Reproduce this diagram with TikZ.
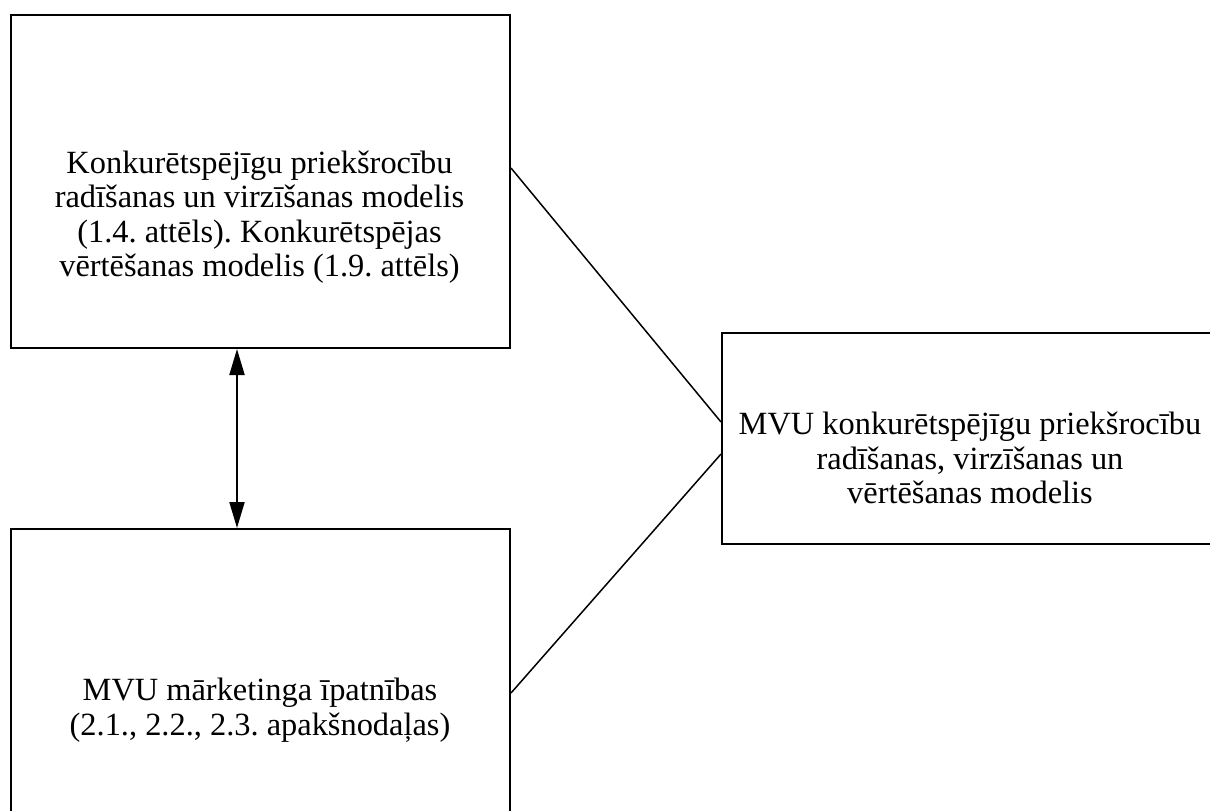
\documentclass[tikz,border=0pt]{standalone}
\usepackage{fontspec}
\setmainfont{Liberation Serif}
\usetikzlibrary{arrows.meta,calc}
\frenchspacing
\begin{document}
\begin{tikzpicture}[x=0.5pt,y=-0.5pt,
  box/.style={draw,line width=1pt,inner sep=0pt,anchor=north west},
  lbl/.style={align=center,inner sep=0pt,font=\fontsize{16.2pt}{17.2pt}\selectfont},
  link/.style={line width=0.75pt},
  dbl/.style={line width=1pt,{Triangle[length=13pt,width=7.5pt]}-{Triangle[length=13pt,width=7.5pt]}}]
\useasboundingbox (0,0) rectangle (1210,810);
\clip (0,0) rectangle (1210,810);
% the three boxes
\node[box,minimum width=499pt*0.5,minimum height=333pt*0.5] (tl) at (10,14) {};
\node[box,minimum width=499pt*0.5,minimum height=330pt*0.5] (bl) at (10,528) {};
\node[box,minimum width=500pt*0.5,minimum height=211pt*0.5] (rt) at (721,332) {};
% box texts
\node[lbl] (tltext) at (259.5,217) {Konkurētspējīgu priekšrocību\\radīšanas un virzīšanas modelis\\(1.4. attēls). Konkurētspējas\\vērtēšanas modelis (1.9. attēls)};
\node[lbl] (rttext) at (970,458) {MVU konkurētspējīgu priekšrocību\\radīšanas, virzīšanas un\\vērtēšanas modelis};
\node[lbl] (bltext) at (260,710) {MVU mārketinga īpatnības\\(2.1., 2.2., 2.3. apakšnodaļas)};
% connectors
\coordinate (tlout) at ([yshift=13.5*0.5pt]tl.east);
\coordinate (blout) at (tl.east |- 0,693);
\coordinate (rtin1) at ([yshift=16.5*0.5pt]rt.west);
\coordinate (rtin2) at ([yshift=-15.5*0.5pt]rt.west);
\draw[link] (tlout) -- (rtin1);
\draw[link] (blout) -- (rtin2);
\draw[dbl] (tl.south -| 237,0) -- (bl.north -| 237,0);
\end{tikzpicture}
\end{document}
